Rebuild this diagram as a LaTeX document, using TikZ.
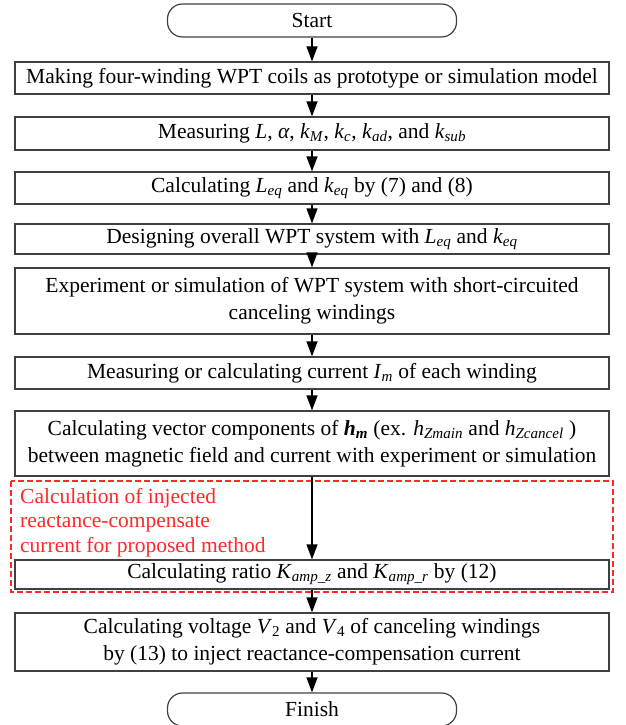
\documentclass[tikz,border=0pt]{standalone}
\usepackage{fontspec}
\setmainfont{Liberation Serif}
\usetikzlibrary{arrows.meta}
\definecolor{boxGray}{RGB}{64,64,64}
\definecolor{noteRed}{RGB}{255,40,40}
\newcommand{\vsub}[2]{\textit{#1}\textsubscript{\textit{#2}}}

\begin{document}
\begin{tikzpicture}[x=1pt,y=-1pt,
    stepbox/.style={draw=boxGray, line width=1.2pt, minimum width=594pt, align=center, inner sep=0pt,
      font=\fontsize{21.5}{27}\selectfont},
    endbox/.style={draw=boxGray, line width=1.2pt, rounded corners=15pt, minimum width=289pt,
      minimum height=33pt, inner sep=0pt, font=\fontsize{21.5}{27}\selectfont},
    flow/.style={-{Triangle[width=11pt,length=15pt]}, line width=1.2pt}]
  \useasboundingbox (0,0) rectangle (625,725);

  \node[endbox] (start) at (312,20.5) {Start};
  \node[stepbox, minimum height=32pt] (make) at (312,78) {Making four-winding WPT coils as prototype or simulation model};
  \node[stepbox, minimum height=33pt] (meas) at (312,133.5) {Measuring \textit{L}, \textit{α}, \vsub{k}{M}, \vsub{k}{c}, \vsub{k}{ad}, and \vsub{k}{sub}};
  \node[stepbox, minimum height=32pt] (calc) at (312,188) {Calculating \vsub{L}{eq} and \vsub{k}{eq} by (7) and (8)};
  \node[stepbox, minimum height=30pt] (design) at (312,239) {Designing overall WPT system with \vsub{L}{eq} and \vsub{k}{eq}};
  \node[stepbox, minimum height=66pt] (exp) at (312,301) {Experiment or simulation of WPT system with short-circuited\\canceling windings};
  \node[stepbox, minimum height=32pt] (curr) at (312,373) {Measuring or calculating current \vsub{I}{m} of each winding};
  \node[stepbox, minimum height=65pt] (vect) at (312,443.5) {Calculating vector components of \textbf{\textit{h}\textsubscript{\textit{m}}} (ex. \vsub{h}{Zmain} and \vsub{h}{Zcancel} )\\between magnetic field and current with experiment or simulation};
  \node[stepbox, minimum height=29pt] (ratio) at (312,574.5) {Calculating ratio \vsub{K}{amp\_z} and \vsub{K}{amp\_r} by (12)};
  \node[stepbox, minimum height=58pt] (volt) at (312,642) {Calculating voltage \textit{V}\textsubscript{2} and \textit{V}\textsubscript{4} of canceling windings\\by (13) to inject reactance-compensation current};
  \node[endbox] (finish) at (312,709.5) {Finish};

  % injected current part
  \draw[noteRed, line width=1.3pt, dash pattern=on 6pt off 3pt] (11,481) rectangle (613,592);
  \node[noteRed, anchor=north west, align=left, inner sep=0pt, font=\fontsize{21.5}{24.5}\selectfont] (note) at (20,488)
    {Calculation of injected\\reactance-compensate\\current for proposed method};

  \draw[flow] (start) -- (make);
  \draw[flow] (make) -- (meas);
  \draw[flow] (meas) -- (calc);
  \draw[flow] (calc) -- (design);
  \draw[flow] (design) -- (exp);
  \draw[flow] (exp) -- (curr);
  \draw[flow] (curr) -- (vect);
  \draw[flow] (vect) -- (ratio);
  \draw[flow] (ratio) -- (volt);
  \draw[flow] (volt) -- (finish);
\end{tikzpicture}
\end{document}
